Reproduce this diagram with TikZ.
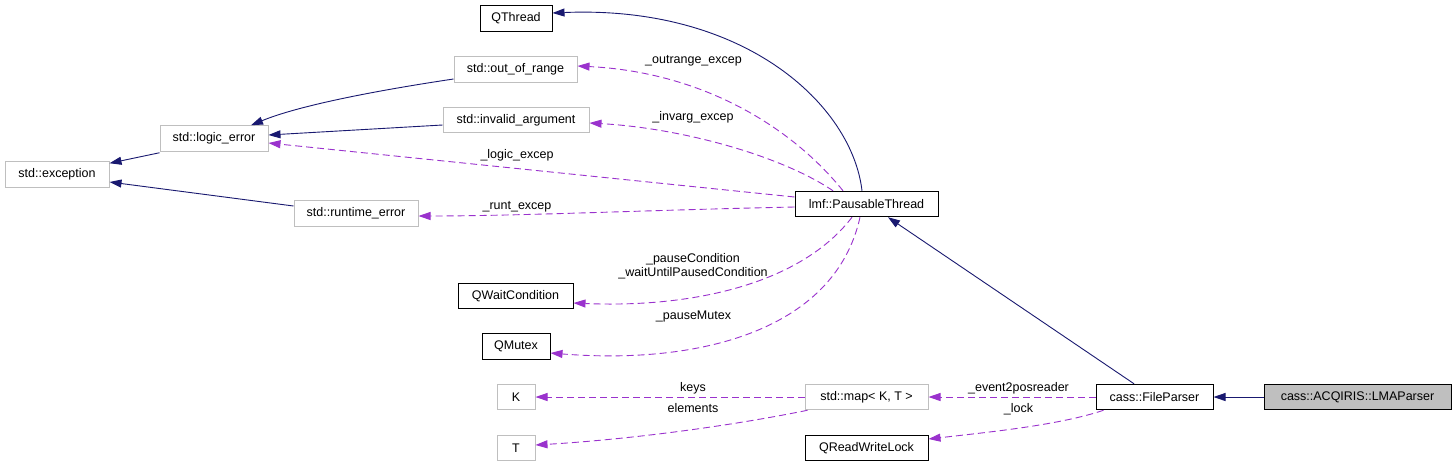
\documentclass[tikz,border=0pt]{standalone}
\usepackage{fontspec}
\setmainfont{Liberation Sans}
\usetikzlibrary{arrows.meta}
\definecolor{edgeblue}{HTML}{191970}
\definecolor{edgepurple}{HTML}{9A32CD}
\definecolor{extgray}{HTML}{BFBFBF}
\tikzset{
  box/.style={rectangle, minimum height=25.5pt, inner sep=0pt, line width=1pt, font=\fontsize{12.5}{14}\selectfont},
  cls/.style={box, draw=black},
  ext/.style={box, draw=extgray},
  cur/.style={box, draw=black, fill=extgray},
  inh/.style={draw=edgeblue, line width=0.9pt, -{Triangle[length=12pt,width=8pt]}},
  use/.style={draw=edgepurple, line width=0.9pt, dash pattern=on 7pt off 4pt, -{Triangle[length=12pt,width=8pt]}},
  lbl/.style={inner sep=0pt, font=\fontsize{12.5}{14.5}\selectfont, align=center}
}
\begin{document}
\begin{tikzpicture}[x=1pt, y=-1pt]
    \fill[white] (0,0) rectangle (1456,467);
    \node[cls, minimum width=72pt] (qthread) at (516,18.5) {QThread};
    \node[ext, minimum width=123pt] (outrange) at (515.5,69.5) {std::out\_of\_range};
    \node[ext, minimum width=146pt] (invarg) at (516,120) {std::invalid\_argument};
    \node[ext, minimum width=108pt] (logic) at (214,138.5) {std::logic\_error};
    \node[ext, minimum width=104pt] (exception) at (57,174.5) {std::exception};
    \node[ext, minimum width=124pt] (runt) at (356,213.5) {std::runtime\_error};
    \node[cls, minimum width=143pt] (pt) at (866.5,204) {lmf::PausableThread};
    \node[cls, minimum width=115pt] (qwait) at (515.5,296) {QWaitCondition};
    \node[cls, minimum width=68pt] (qmutex) at (516,346.5) {QMutex};
    \node[ext, minimum width=38pt] (k) at (516,397) {K};
    \node[ext, minimum width=38pt] (t) at (516,448) {T};
    \node[ext, minimum width=123pt] (map) at (866.5,397) {std::map< K, T >};
    \node[cls, minimum width=123pt] (qrwl) at (866.5,448) {QReadWriteLock};
    \node[cls, minimum width=117pt] (fp) at (1154.5,397) {cass::FileParser};
    \node[cur, minimum width=187pt] (lma) at (1357.5,397) {cass::ACQIRIS::LMAParser};

    \draw[inh] ([xshift=-4.5pt]pt.north) .. controls (852,105) and (745,5) .. ([yshift=5.5pt]qthread.east);
    \draw[inh] ([yshift=-9.5pt]outrange.west) .. controls (380,90) and (300,105) .. ([xshift=37pt]logic.north);
    \draw[inh] ([yshift=-5pt]invarg.west) -- ([yshift=3.5pt]logic.east);
    \draw[inh] ([shift={(0pt,-1pt)}]logic.south west) -- ([yshift=-2pt]exception.north east);
    \draw[inh] ([yshift=7.5pt]runt.west) -- ([yshift=-7.5pt]exception.east);
    \draw[inh] ([xshift=-20.5pt]fp.north) -- ([xshift=21.5pt]pt.south);
    \draw[inh] (lma.west) -- (fp.east);

    \draw[use] ([xshift=-23.5pt]pt.north) .. controls (790,125) and (700,72) .. ([yshift=3.5pt]outrange.east);
    \draw[use] ([xshift=-33.5pt]pt.north) .. controls (780,155) and (680,128) .. ([yshift=-3pt]invarg.east);
    \draw[use] ([yshift=7pt]pt.west) -- ([yshift=-4.5pt]logic.east);
    \draw[use] ([yshift=-3pt]pt.west) .. controls (650,210) and (520,216) .. ([yshift=-2.5pt]runt.east);
    \draw[use] ([xshift=-14.5pt]pt.south) .. controls (800,285) and (690,308) .. ([yshift=-7pt]qwait.east);
    \draw[use] ([xshift=-6.5pt]pt.south) .. controls (835,330) and (700,365) .. ([yshift=-6.5pt]qmutex.east);
    \draw[use] (map.west) -- (k.east);
    \draw[use] ([xshift=3pt]map.south west) .. controls (720,428) and (620,440) .. ([yshift=3pt]t.east);
    \draw[use] (fp.west) -- (map.east);
    \draw[use] ([xshift=8pt]fp.south west) .. controls (1060,425) and (990,432) .. ([yshift=9pt]qrwl.east);

    \node[lbl] (l_outrange) at (693.5,61) {\_outrange\_excep};
    \node[lbl] (l_invarg) at (693,117) {\_invarg\_excep};
    \node[lbl] (l_logic) at (517,155) {\_logic\_excep};
    \node[lbl] (l_runt) at (517,206.5) {\_runt\_excep};
    \node[lbl] (l_pause) at (693,266) {\_pauseCondition\\\_waitUntilPausedCondition};
    \node[lbl] (l_mutex) at (693.5,316) {\_pauseMutex};
    \node[lbl] (l_keys) at (693,388) {keys};
    \node[lbl] (l_elem) at (693,408) {elements};
    \node[lbl] (l_event) at (1018.5,388) {\_event2posreader};
    \node[lbl] (l_lock) at (1018.5,409) {\_lock};
\end{tikzpicture}
\end{document}
